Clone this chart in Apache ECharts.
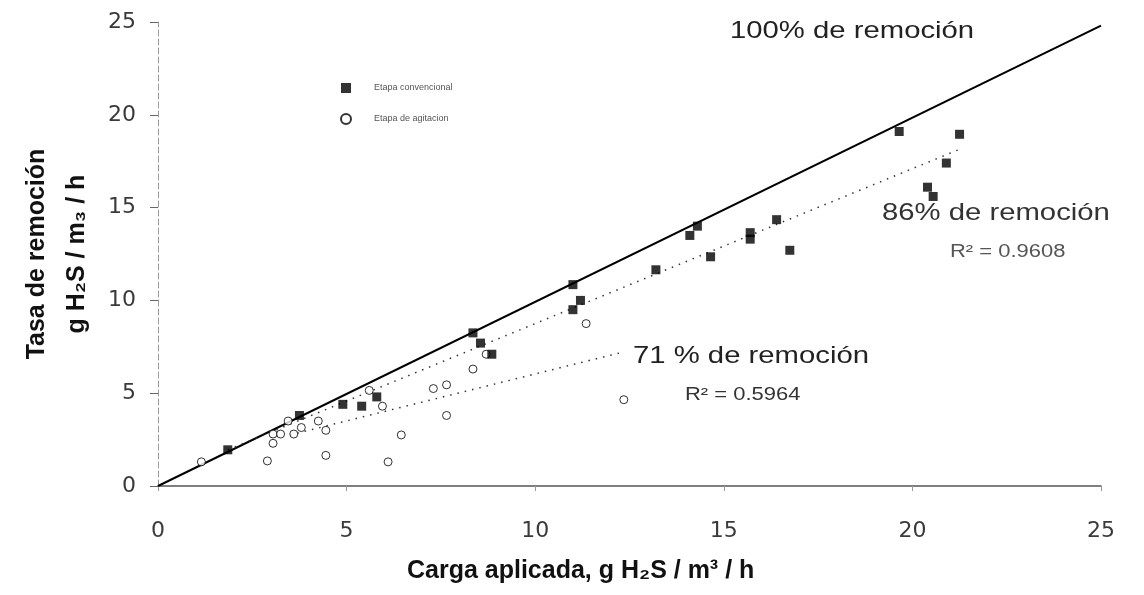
<!DOCTYPE html>
<html>
<head>
<meta charset="utf-8">
<script src="https://cdn.jsdelivr.net/npm/echarts@6/dist/echarts.min.js"></script>
<style>
  html, body { margin: 0; padding: 0; background: #fff; }
  #chart { width: 1144px; height: 595px; }
</style>
</head>
<body>
<div id="chart"></div>
<script>
// Carga aplicada vs. tasa de remoción de H2S
const convencional = [
  [1.85, 1.95], [3.75, 3.8], [4.9, 4.4], [5.4, 4.3], [5.8, 4.8],
  [8.35, 8.25], [8.55, 7.7], [8.85, 7.1], [11.0, 10.85], [11.2, 10.0],
  [11.0, 9.5], [13.2, 11.65], [14.1, 13.5], [14.3, 14.0], [14.65, 12.35],
  [15.7, 13.65], [15.7, 13.3], [16.4, 14.35], [16.75, 12.7], [19.65, 19.1],
  [21.25, 18.95], [20.9, 17.4], [20.4, 16.1], [20.55, 15.6]
];
const agitacion = [
  [1.15, 1.3], [2.9, 1.35], [3.05, 2.3], [3.05, 2.8], [3.25, 2.8],
  [3.6, 2.8], [3.8, 3.15], [3.45, 3.5], [4.25, 3.5], [4.45, 3.0],
  [4.45, 1.65], [5.6, 5.15], [5.95, 4.3], [6.45, 2.75], [6.1, 1.3],
  [7.3, 5.25], [7.65, 5.45], [7.65, 3.8], [8.7, 7.1], [8.35, 6.3],
  [11.35, 8.75], [12.35, 4.65]
];
const linea100 = [[0, 0], [25, 24.8]];
const ajuste86 = [[1.85, 1.95], [21.2, 18.1]];
const ajuste71 = [[3.5, 2.75], [12.3, 7.2]];
const xTicks = [0, 5, 10, 15, 20, 25];
const yTicks = [0, 5, 10, 15, 20, 25];
const nombres = ['Etapa convencional', 'Etapa de agitacion'];

const chart = echarts.init(document.getElementById('chart'), null, { renderer: 'canvas' });
const annFont = 'Liberation Sans, Arial, sans-serif';
const tickFont = { fontFamily: 'DejaVu Sans, sans-serif', fontSize: 22, color: '#3a3a3a' };

// spaced-out annotation text
function nota(text, left, top, size, fill) {
  return {
    type: 'text', left: left, top: top, scaleX: 1.22, originX: 0,
    style: { text: text, font: size + 'px ' + annFont, fill: fill }
  };
}

chart.setOption({
  animation: false,
  backgroundColor: '#fff',
  grid: { left: 158, right: 43, top: 22, bottom: 109 },
  legend: {
    left: 335, top: 78, orient: 'vertical', itemGap: 20,
    itemWidth: 10, itemHeight: 10,
    data: nombres,
    textStyle: { fontSize: 9, color: '#555', fontFamily: annFont, padding: [0, 0, 0, 18] }
  },
  xAxis: {
    type: 'value', min: 0, max: 25, interval: 5,
    axisLine: { show: true, lineStyle: { color: '#555', width: 1.5 } },
    axisTick: { show: true, length: 5, lineStyle: { color: '#999' } },
    splitLine: { show: false },
    axisLabel: Object.assign({ margin: 34, formatter: v => xTicks.includes(v) ? String(v) : '' }, tickFont)
  },
  yAxis: {
    type: 'value', min: 0, max: 25, interval: 5,
    axisLine: { show: true, lineStyle: { color: '#999', width: 1, type: [6, 3] } },
    axisTick: { show: true, length: 8, lineStyle: { color: '#666' } },
    splitLine: { show: false },
    axisLabel: Object.assign({ margin: 22, formatter: v => yTicks.includes(v) ? String(v) : '' }, tickFont),
    name: 'Tasa de remoción\ng H₂S / m₃ / h',
    nameLocation: 'middle', nameRotate: 90, nameGap: 54,
    nameTextStyle: { fontFamily: annFont, fontSize: 25, fontWeight: 'bold', color: '#111', lineHeight: 40 }
  },
  graphic: [
    { type: 'text', left: 407, top: 559, style: { text: 'Carga aplicada, g H₂S / m³ / h', font: 'bold 25px "Liberation Sans Narrow", "Liberation Sans", Arial', fill: '#111' } },
    nota('100% de remoción', 730, 19, 24, '#222'),
    nota('86% de remoción', 882, 201, 24, '#333'),
    nota('R² = 0.9608', 950, 243, 18, '#555'),
    nota('71 % de remoción', 633, 344, 24, '#222'),
    nota('R² = 0.5964', 685, 386, 18, '#333')
  ],
  series: [
    {
      type: 'line', data: linea100, symbol: 'none', silent: true,
      lineStyle: { color: '#000', width: 2 }
    },
    {
      type: 'line', data: ajuste86, symbol: 'none', silent: true,
      lineStyle: { color: '#333', width: 1.5, type: [1.5, 6] }
    },
    {
      type: 'line', data: ajuste71, symbol: 'none', silent: true,
      lineStyle: { color: '#333', width: 1.5, type: [1.5, 6] }
    },
    {
      name: nombres[0], type: 'scatter', data: convencional,
      symbol: 'rect', symbolSize: 9,
      itemStyle: { color: '#000' }, z: 5
    },
    {
      name: nombres[1], type: 'scatter', data: agitacion,
      symbol: 'circle', symbolSize: 8,
      itemStyle: { color: '#fff', borderColor: '#000', borderWidth: 1 }, z: 4
    }
  ]
});
</script>
</body>
</html>
